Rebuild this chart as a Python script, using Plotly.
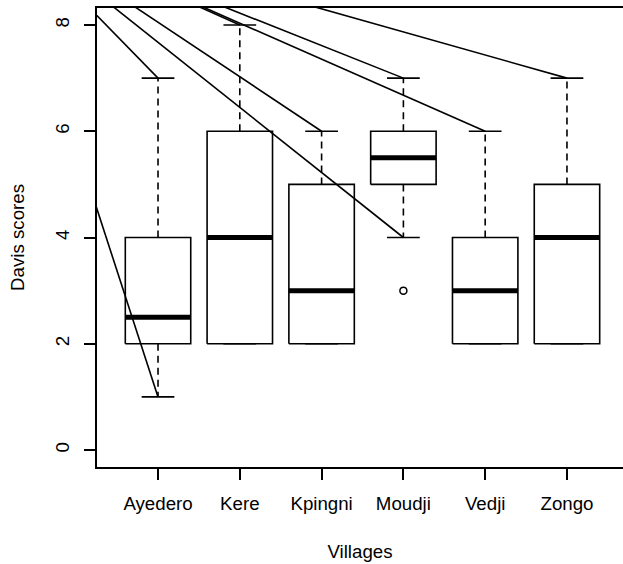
import plotly.graph_objects as go

# Five-number summaries of the Davis scores per village
villages = ["Ayedero", "Kere", "Kpingni", "Moudji", "Vedji", "Zongo"]
lower_whisker = [1, 2, 2, 4, 2, 2]
q1 = [2, 2, 2, 5, 2, 2]
median = [2.5, 4, 3, 5.5, 3, 4]
q3 = [4, 6, 5, 6, 4, 5]
upper_whisker = [7, 8, 6, 7, 6, 7]

# Points beyond the whiskers
outlier_village = ["Moudji"]
outlier_value = [3]

# Common anchor from which the leader lines are drawn to each whisker tip
leader_anchor = (-0.9, 10)

BOX_HALF = 0.4
CAP_HALF = 0.2
FONT = "Liberation Sans, Arial, Helvetica, sans-serif"
FS = 18.7
LW = 1.6

pos = {v: i + 1 for i, v in enumerate(villages)}

box_x, box_y = [], []
med_x, med_y = [], []
wh_x, wh_y = [], []
cap_x, cap_y = [], []
lead_x, lead_y = [], []
ax, ay = leader_anchor
for v, lo, a, m, b, hi in zip(villages, lower_whisker, q1, median, q3, upper_whisker):
    c = pos[v]
    box_x += [c - BOX_HALF, c + BOX_HALF, c + BOX_HALF, c - BOX_HALF, c - BOX_HALF, None]
    box_y += [a, a, b, b, a, None]
    med_x += [c - BOX_HALF, c + BOX_HALF, None]
    med_y += [m, m, None]
    wh_x += [c, c, None, c, c, None]
    wh_y += [b, hi, None, a, lo, None]
    cap_x += [c - CAP_HALF, c + CAP_HALF, None, c - CAP_HALF, c + CAP_HALF, None]
    cap_y += [hi, hi, None, lo, lo, None]
    if hi > b:
        lead_x += [ax, c, None]
        lead_y += [ay, hi, None]
    if lo < a:
        lead_x += [ax, c, None]
        lead_y += [ay, lo, None]

fig = go.Figure()
line_style = dict(color="black", width=LW)
fig.add_trace(go.Scatter(x=wh_x, y=wh_y, mode="lines",
                         line=dict(color="black", width=LW, dash="7px,5px")))
fig.add_trace(go.Scatter(x=cap_x, y=cap_y, mode="lines", line=line_style))
fig.add_trace(go.Scatter(x=box_x, y=box_y, mode="lines", line=line_style))
fig.add_trace(go.Scatter(x=med_x, y=med_y, mode="lines",
                         line=dict(color="black", width=5)))
fig.add_trace(go.Scatter(x=[pos[v] for v in outlier_village], y=outlier_value,
                         mode="markers",
                         marker=dict(symbol="circle-open", size=7, color="black",
                                     line=dict(width=1.5))))
fig.add_trace(go.Scatter(x=lead_x, y=lead_y, mode="lines", line=line_style))

fig.update_layout(
    width=623, height=564,
    margin=dict(l=97, r=0, t=8, b=97),
    paper_bgcolor="white", plot_bgcolor="white",
    showlegend=False,
    font=dict(family=FONT, size=FS, color="black"),
)
fig.update_xaxes(
    range=[0.254, 6.685],
    tickmode="array", tickvals=[pos[v] for v in villages], ticktext=villages,
    showgrid=False, zeroline=False,
    showline=True, mirror=True, linecolor="black", linewidth=LW,
    ticks="outside", ticklen=11, tickwidth=LW, tickcolor="black",
    ticklabelstandoff=8,
    title=dict(text="Villages", standoff=32, font=dict(size=FS)),
)
fig.update_yaxes(
    range=[-0.32, 8.32],
    tickmode="array", tickvals=[0, 2, 4, 6, 8],
    tickangle=-90,
    showgrid=False, zeroline=False,
    showline=True, mirror=False, linecolor="black", linewidth=LW,
    ticks="outside", ticklen=11, tickwidth=LW, tickcolor="black",
    ticklabelstandoff=8,
    title=dict(text="Davis scores", standoff=22, font=dict(size=FS)),
)

fig.write_html("out.html")
